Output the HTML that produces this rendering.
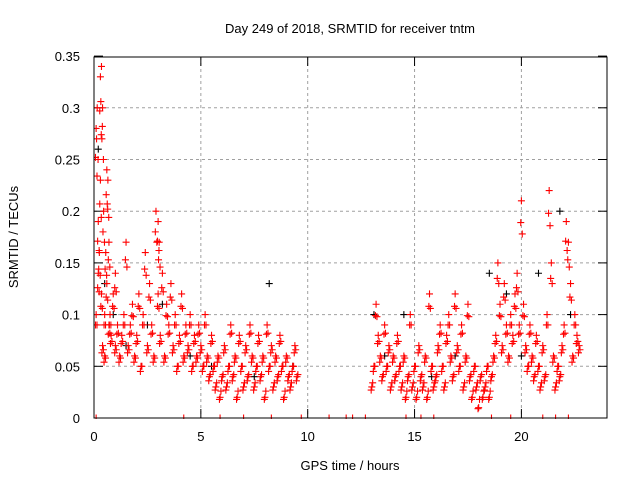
<!DOCTYPE html>
<html><head><meta charset="utf-8"><style>
body{margin:0;background:#fff}
svg{display:block;font-family:"Liberation Sans",sans-serif}
</style></head><body>
<svg id="c" width="640" height="480" viewBox="0 0 640 480">
<defs><clipPath id="pa"><rect x="94" y="57" width="513" height="362"/></clipPath></defs>
<rect width="640" height="480" fill="#fff"/>
<text x="350" y="33" font-size="13" text-anchor="middle">Day 249 of 2018, SRMTID for receiver tntm</text>
<text x="350" y="470" font-size="13" text-anchor="middle">GPS time / hours</text>
<text transform="translate(18,237) rotate(-90)" font-size="13" text-anchor="middle">SRMTID / TECUs</text>
<g id="grid"></g><g id="pts" clip-path="url(#pa)"></g>
<rect x="94" y="57" width="513" height="361" fill="none" stroke="#000" stroke-width="1"/>
</svg>
<script>
const xTicks=[0,5,10,15,20];
const yTicks=[0,0.05,0.1,0.15,0.2,0.25,0.3,0.35];
const yTickLabels=["0","0.05","0.1","0.15","0.2","0.25","0.3","0.35"];
const redT=[0.1,0.1,0.15,0.2,0.2,0.25,0.3,0.3,0.35,0.35,0.4,0.4,0.45,0.5,0.5,0.55,0.6,0.6,0.65,0.7,0.7,0.75,0.8,0.9,1.0,1.0,1.1,1.2,1.3,1.4,1.5,1.6,1.7,1.8,1.9,2.0,2.1,2.2,2.3,2.4,2.5,2.6,2.7,2.8,2.9,3.0,3.0,3.05,3.1,3.2,3.3,3.4,3.5,3.6,3.7,3.8,3.9,4.0,4.1,4.2,4.3,4.4,4.5,4.6,4.7,4.8,4.9,5.0,5.1,5.2,5.3,5.4,5.5,5.6,5.7,5.8,5.9,6.0,6.1,6.2,6.3,6.4,6.5,6.6,6.7,6.8,6.9,7.0,7.1,7.2,7.3,7.4,7.5,7.6,7.7,7.8,7.9,8.0,8.1,8.2,8.3,8.4,8.5,8.6,8.7,8.8,8.9,9.0,9.1,9.2,9.3,9.4,9.5,13.0,13.1,13.2,13.3,13.4,13.5,13.6,13.7,13.8,13.9,14.0,14.1,14.2,14.3,14.4,14.5,14.6,14.7,14.8,14.9,15.0,15.1,15.2,15.3,15.4,15.5,15.6,15.7,15.8,15.9,16.0,16.1,16.2,16.3,16.4,16.5,16.6,16.7,16.8,16.9,17.0,17.1,17.2,17.3,17.4,17.5,17.6,17.7,17.8,17.9,18.0,18.1,18.2,18.3,18.4,18.5,18.6,18.7,18.8,18.9,19.0,19.1,19.2,19.3,19.4,19.5,19.6,19.7,19.8,19.9,20.0,20.1,20.2,20.3,20.4,20.5,20.6,20.7,20.8,20.9,21.0,21.1,21.2,21.3,21.4,21.5,21.6,21.7,21.8,21.9,22.0,22.1,22.2,22.3,22.4,22.5,22.6,22.7];
const redV=[0.28,0.1,0.3,0.19,0.14,0.16,0.33,0.23,0.34,0.12,0.3,0.07,0.2,0.1,0.06,0.16,0.24,0.13,0.23,0.17,0.09,0.1,0.08,0.12,0.07,0.14,0.09,0.06,0.08,0.1,0.17,0.07,0.09,0.11,0.06,0.08,0.12,0.05,0.1,0.16,0.07,0.13,0.09,0.06,0.2,0.19,0.12,0.17,0.08,0.14,0.06,0.11,0.09,0.13,0.07,0.1,0.05,0.08,0.12,0.06,0.09,0.07,0.1,0.05,0.08,0.06,0.09,0.07,0.05,0.1,0.06,0.04,0.08,0.05,0.03,0.06,0.02,0.04,0.07,0.03,0.05,0.09,0.04,0.06,0.02,0.08,0.05,0.03,0.07,0.04,0.09,0.06,0.03,0.05,0.08,0.04,0.06,0.02,0.09,0.05,0.07,0.03,0.06,0.04,0.08,0.05,0.02,0.06,0.04,0.03,0.05,0.07,0.04,0.03,0.05,0.11,0.08,0.06,0.04,0.09,0.05,0.07,0.03,0.06,0.04,0.08,0.05,0.03,0.06,0.02,0.04,0.1,0.03,0.05,0.02,0.07,0.04,0.03,0.06,0.02,0.12,0.05,0.03,0.04,0.07,0.09,0.05,0.03,0.08,0.1,0.06,0.04,0.12,0.07,0.05,0.09,0.03,0.06,0.11,0.04,0.02,0.05,0.03,0.01,0.04,0.02,0.03,0.05,0.02,0.04,0.06,0.08,0.15,0.11,0.07,0.13,0.09,0.06,0.1,0.08,0.12,0.14,0.09,0.21,0.11,0.07,0.05,0.09,0.06,0.04,0.08,0.05,0.03,0.07,0.04,0.1,0.22,0.15,0.06,0.03,0.05,0.04,0.07,0.09,0.19,0.17,0.13,0.06,0.1,0.08,0.07,0.15,0.11,0.09];
const blackT=[0.2,0.5,0.9,1.5,2.5,3.2,4.5,5.5,7.5,8.2,9.3,13.1,13.6,14.5,15.8,16.9,18.5,19.3,20.0,20.8,21.8,22.3];
const blackV=[0.26,0.13,0.1,0.07,0.09,0.11,0.06,0.05,0.04,0.13,0.05,0.1,0.06,0.1,0.04,0.06,0.14,0.12,0.06,0.14,0.2,0.1];
const zeroT=[0.1,4.2,5.9,7.0,8.3,9.7,11.0,11.8,12.1,12.7,14.6,15.3,15.9,18.6,19.5,21.0,21.6,22.2];
const NS='http://www.w3.org/2000/svg';
const X=t=>94+t*21.37, Y=v=>418-v*1034;
const g=document.getElementById('grid'), p=document.getElementById('pts');
function mk(tag,a,parent){const e=document.createElementNS(NS,tag);for(const k in a)e.setAttribute(k,a[k]);parent.appendChild(e);return e;}
xTicks.forEach(t=>{
 if(t>0){const l=mk('line',{x1:X(t),x2:X(t),y1:57,y2:418,stroke:'#a0a0a0','stroke-dasharray':'3,3'},g);
 
 }
 mk('line',{x1:X(t),x2:X(t),y1:418,y2:409,stroke:'#000'},g);
 mk('line',{x1:X(t),x2:X(t),y1:57,y2:66,stroke:'#000'},g);
 const tx=mk('text',{x:X(t),y:441,'font-size':13,'text-anchor':'middle'},g);tx.textContent=t;
 
 
});
yTicks.forEach((v,i)=>{
 if(v>0&&v<0.35){const l=mk('line',{x1:94,x2:607,y1:Y(v),y2:Y(v),stroke:'#a0a0a0','stroke-dasharray':'3,3'},g);
 
 }
 mk('line',{x1:94,x2:103,y1:Y(v),y2:Y(v),stroke:'#000'},g);
 mk('line',{x1:598,x2:607,y1:Y(v),y2:Y(v),stroke:'#000'},g);
 const tx=mk('text',{x:80,y:Y(v)+5,'font-size':13,'text-anchor':'end'},g);tx.textContent=yTickLabels[i];
 
 
});
function plus(t,v,col,name){const x=X(t),y=Y(v);
 const e=mk('path',{d:`M${x-3.5} ${y}H${x+3.5}M${x} ${y-3.5}V${y+3.5}`,stroke:col,'stroke-width':1.1,fill:'none'},p);
 
 }
blackT.forEach((t,i)=>plus(t,blackV[i],'#000','black-point'));
redT.forEach((t,i)=>{plus(t,redV[i],'#f00','red-point');plus(t+0.04,redV[i]*0.8+0.01,'#f00','red-point');plus(t-0.03,redV[i]*0.9,'#f00','red-point');});
zeroT.forEach(t=>plus(t,0,'#f00','zero-point'));
</script>
</body></html>
